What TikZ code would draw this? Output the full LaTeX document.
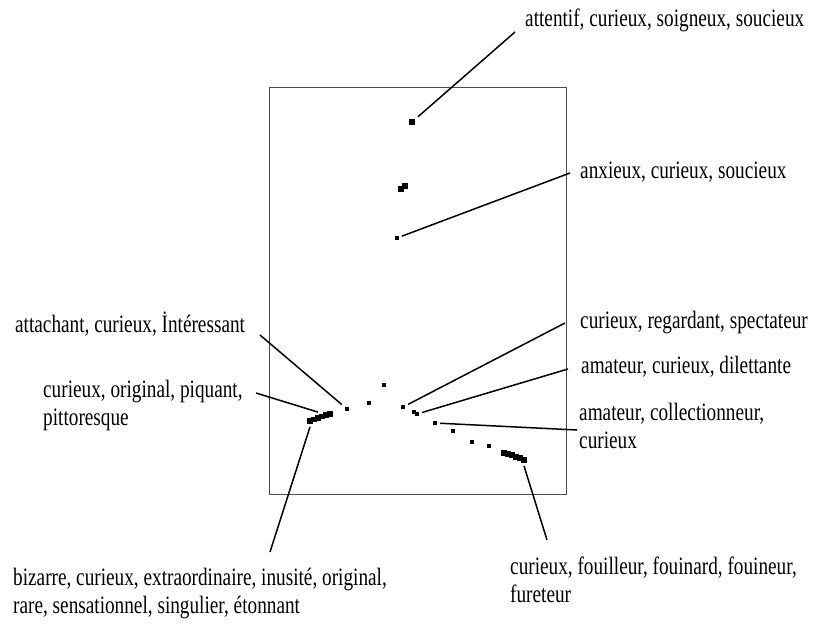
\documentclass[tikz,border=0pt]{standalone}
\usepackage{fontspec}
\setmainfont{Liberation Serif}[FakeStretch=0.77]
\begin{document}
\begin{tikzpicture}[x={(1pt,0)}, y={(0,-1pt)},
    obs/.style={fill=black, inner sep=0pt, minimum size=4.3pt, outer sep=3pt},
    lead/.style={draw=black, line width=1.5pt},
    lab/.style={inner sep=0pt, anchor=base west, align=left,
                font=\fontsize{25}{28}\selectfont}]
    \useasboundingbox (0,0) rectangle (817,626);
    \draw [gray!60!black, line width=1pt] (269,88) rectangle (566,494);   % frame

    % single points
    \node [obs, minimum size=5.8pt] (p1) at (412,122) {};
    \node [obs, minimum size=5.5pt] (p2a) at (401,189) {};
    \node [obs, minimum size=5.5pt] (p2b) at (405,186) {};
    \node [obs, minimum size=3.6pt] (p3) at (397,238) {};
    \node [obs] (p4) at (384,385) {};
    \node [obs] (p5) at (369,403) {};
    \node [obs] (p6) at (347,409) {};
    \node [obs] (p7) at (403,407) {};
    \node [obs] (p8a) at (414,412) {};
    \node [obs] (p8b) at (417,414) {};
    \node [obs] (p9) at (435,423) {};
    \node [obs] (p10) at (453,431) {};
    \node [obs] (p11) at (472,442) {};
    \node [obs] (p12) at (489,446) {};

    % clustered points
    \foreach \i/\x/\y in {1/310/421, 2/314/419.5, 3/318/418, 4/322/416.5, 5/326/415, 6/330/414}
        \node [obs, minimum size=5.8pt] (l\i) at (\x,\y) {};
    \foreach \i/\x/\y in {1/504/453, 2/508/454, 3/512/455, 4/516/457, 5/520/458, 6/524/460}
        \node [obs, minimum size=5.8pt] (r\i) at (\x,\y) {};

    % labels (multi-line ones sit on the baseline of their last line)
    \node [lab] (t1) at (525,27) {attentif, curieux, soigneux, soucieux};
    \node [lab] (t2) at (580,178) {anxieux, curieux, soucieux};
    \node [lab] (t3) at (580,328) {curieux, regardant, spectateur};
    \node [lab] (t4) at (581,373) {amateur, curieux, dilettante};
    \node [lab] (t5) at (579,448) {amateur, collectionneur,\\curieux};
    \node [lab] (t6) at (15,332) {attachant, curieux, İntéressant};
    \node [lab] (t7) at (43,425) {curieux, original, piquant,\\pittoresque};
    \node [lab] (t8) at (13,613) {bizarre, curieux, extraordinaire, inusité, original,\\rare, sensationnel, singulier, étonnant};
    \node [lab] (t9) at (510,602) {curieux, fouilleur, fouinard, fouineur,\\fureteur};

    % free ends of the leaders
    \coordinate (e1) at (515,32);
    \coordinate (e2) at (570,173);
    \coordinate (e3) at (565,323);
    \coordinate (e4) at (568,369);
    \coordinate (e5) at (577,430);
    \coordinate (e6) at (260,335);
    \coordinate (e7) at (256,393);
    \coordinate (e8) at (270,552);
    \coordinate (e9) at (547,540);

    % leaders
    \draw [lead] (p1) -- (e1);
    \draw [lead] (p3) -- (e2);
    \draw [lead] (p7) -- (e3);
    \draw [lead] (p8b) -- (e4);
    \draw [lead] (p9) -- (e5);
    \draw [lead] (p6) -- (e6);
    \draw [lead] (l3.north) -- (e7);
    \draw [lead] (l1.south) -- (e8);
    \draw [lead] (r6.south) -- (e9);
\end{tikzpicture}
\end{document}
